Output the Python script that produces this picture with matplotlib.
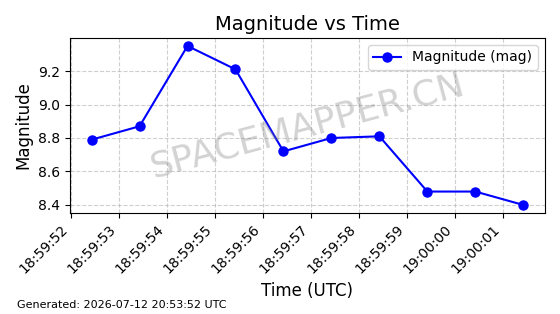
import matplotlib
matplotlib.use('Agg')
import matplotlib.pyplot as plt
import matplotlib.dates as mdates
from datetime import datetime

# observation data
times = ['18:59:52.43', '18:59:53.43', '18:59:54.43', '18:59:55.43', '18:59:56.43',
         '18:59:57.43', '18:59:58.43', '18:59:59.43', '19:00:00.43', '19:00:01.43']
magnitude = [8.79, 8.87, 9.35, 9.21, 8.72, 8.80, 8.81, 8.48, 8.48, 8.40]

t = [datetime.strptime('2026-07-12 ' + s, '%Y-%m-%d %H:%M:%S.%f') for s in times]

fig, ax = plt.subplots(figsize=(5.6, 3.14), dpi=100)
fig.subplots_adjust(left=0.125, right=0.973, top=0.879, bottom=0.322)

ax.plot(t, magnitude, 'o-', color='blue', markersize=6.5, linewidth=1.5, label='Magnitude (mag)')
ax.set_title('Magnitude vs Time', fontsize=14)
ax.set_xlabel('Time (UTC)', fontsize=12)
ax.set_ylabel('Magnitude', fontsize=12)
ax.grid(True, linestyle='--', alpha=0.6)
ax.legend(loc='upper right', fontsize=10)

ax.xaxis.set_major_locator(mdates.SecondLocator())
ax.xaxis.set_major_formatter(mdates.DateFormatter('%H:%M:%S'))
plt.setp(ax.get_xticklabels(), rotation=45, ha='right')

# watermark
ax.text(0.5, 0.5, 'SPACEMAPPER.CN', transform=ax.transAxes, fontsize=26,
        color='gray', alpha=0.35, ha='center', va='center', rotation=15)

fig.text(0.03, 0.02, 'Generated: 2026-07-12 20:53:52 UTC', fontsize=8)

plt.savefig('out.png', dpi=100)
